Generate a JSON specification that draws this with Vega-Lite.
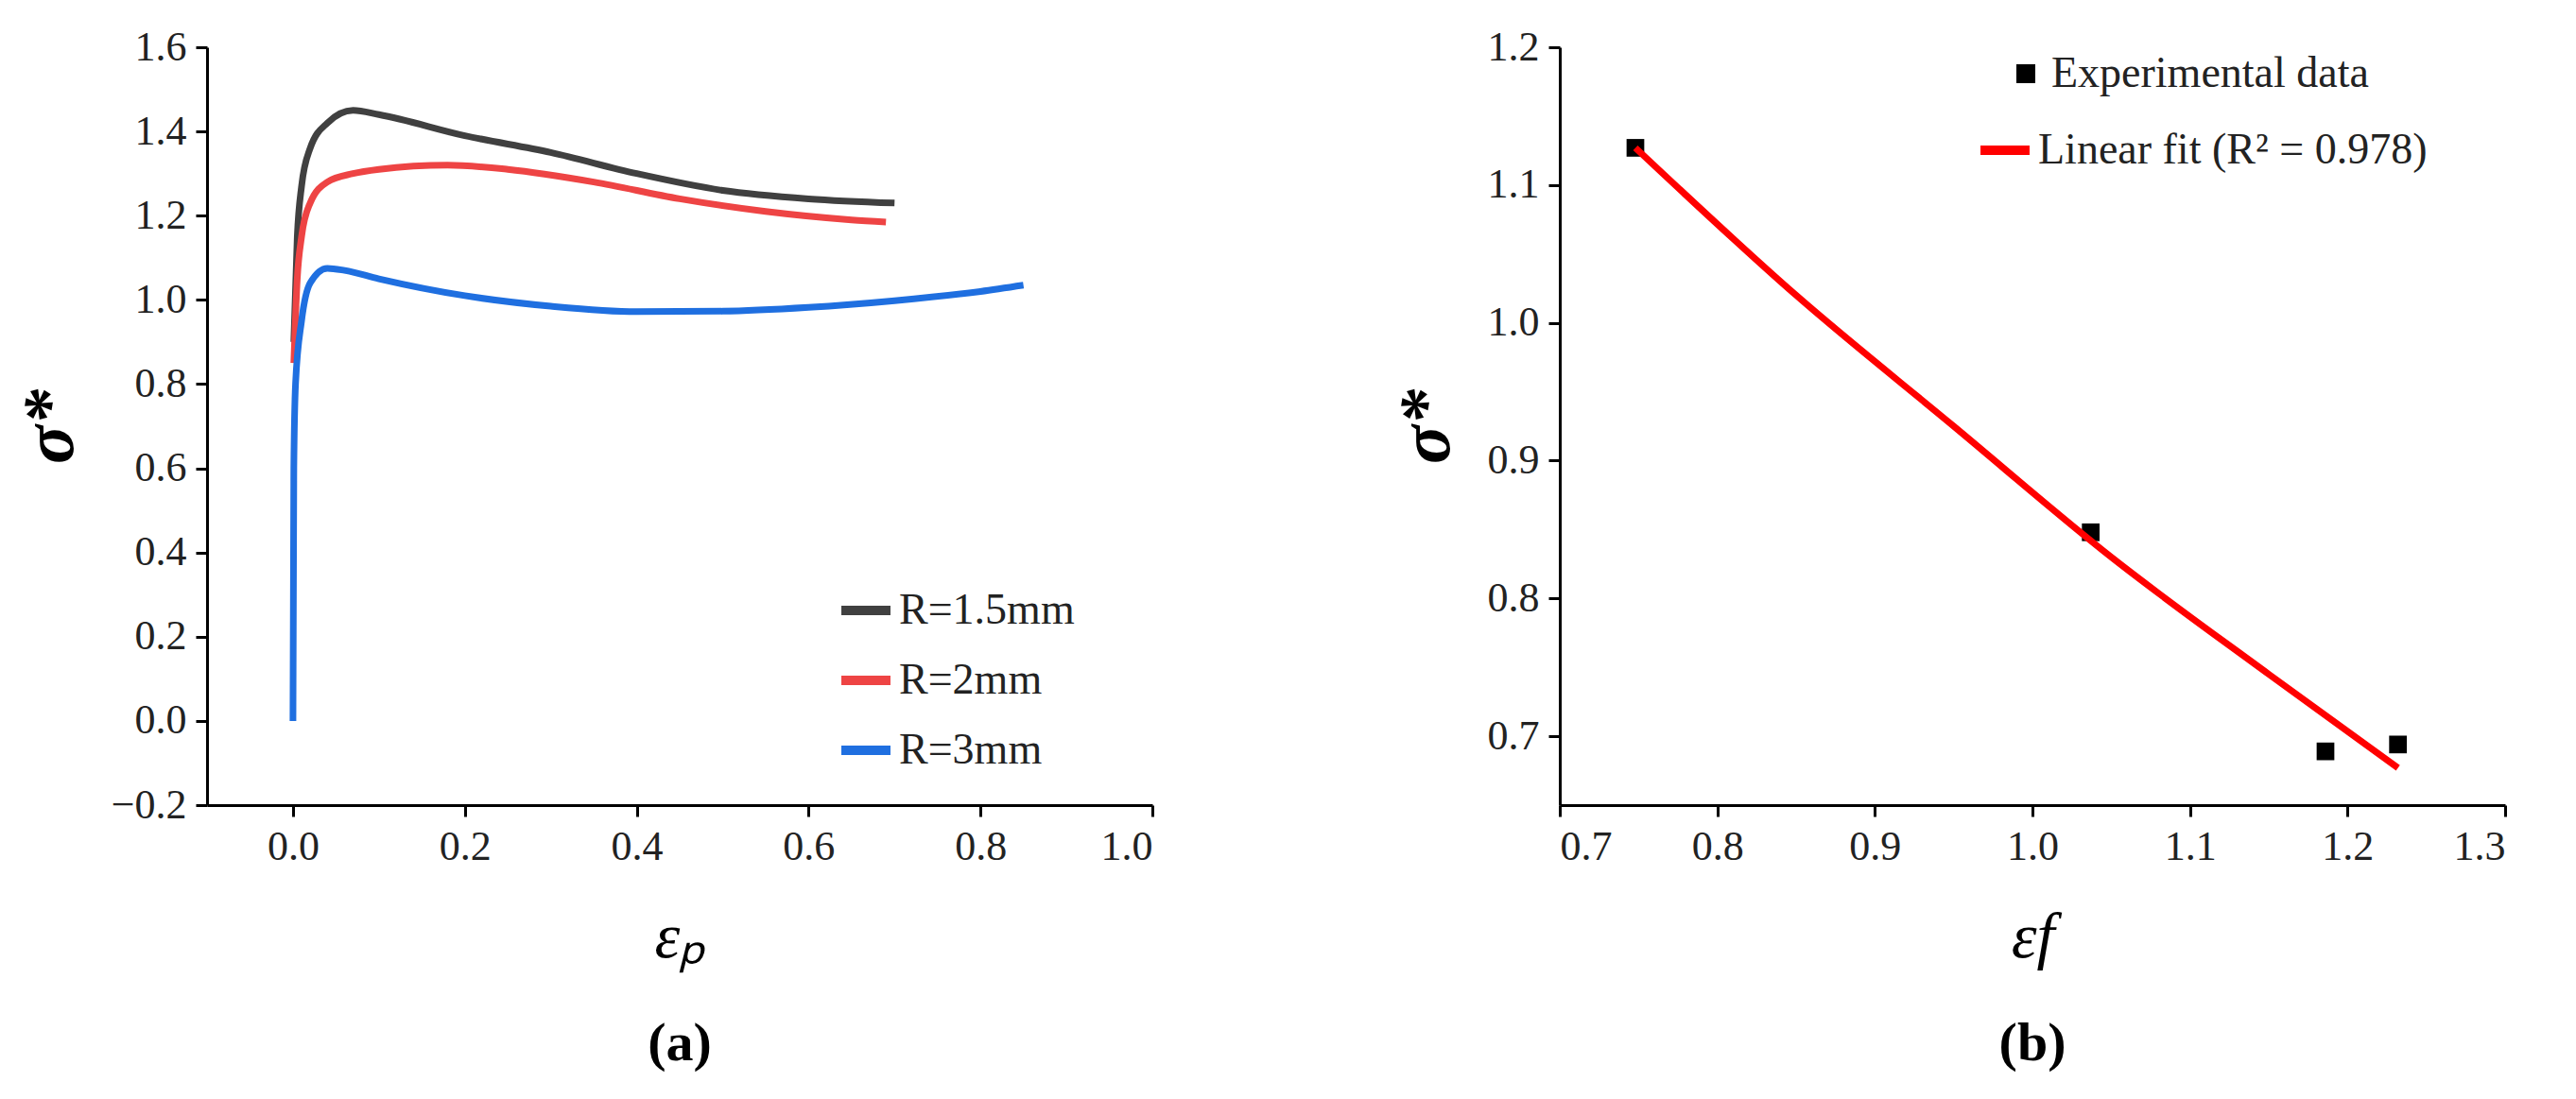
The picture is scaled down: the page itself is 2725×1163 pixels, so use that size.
{
  "$schema": "https://vega.github.io/schema/vega-lite/v6.json",
  "background": "white",
  "padding": {"left": 15, "top": 28, "right": 10, "bottom": 5},
  "config": {
    "font": "Liberation Serif",
    "view": {"stroke": null},
    "axis": {"labelFont": "Liberation Serif", "labelFontSize": 44, "labelColor": "#222", "titleFont": "Liberation Serif", "titleFontSize": 68, "titleFontStyle": "italic", "titleFontWeight": "normal", "titleColor": "black", "domainColor": "black", "domainWidth": 3, "tickColor": "black", "tickWidth": 3, "tickSize": 12, "grid": false, "labelPadding": 10},
    "legend": {"labelFont": "Liberation Serif", "labelFontSize": 46, "labelColor": "#222", "labelLimit": 0, "symbolStrokeWidth": 10, "symbolSize": 2700},
    "title": {"font": "Liberation Serif", "fontSize": 58, "fontWeight": "bold", "color": "black"}
  },
  "spacing": 250,
  "hconcat": [
    {
      "width": 1000, "height": 802,
      "title": {"text": "(a)", "orient": "bottom", "offset": 50},
      "data": {"values": [
        {"s":"R=1.5mm","x":0.001,"y":0.9},{"s":"R=1.5mm","x":0.005,"y":1.15},{"s":"R=1.5mm","x":0.01,"y":1.27},{"s":"R=1.5mm","x":0.02,"y":1.36},{"s":"R=1.5mm","x":0.04,"y":1.42},{"s":"R=1.5mm","x":0.07,"y":1.45},{"s":"R=1.5mm","x":0.1,"y":1.44},{"s":"R=1.5mm","x":0.2,"y":1.39},{"s":"R=1.5mm","x":0.3,"y":1.35},{"s":"R=1.5mm","x":0.4,"y":1.3},{"s":"R=1.5mm","x":0.5,"y":1.26},{"s":"R=1.5mm","x":0.6,"y":1.24},{"s":"R=1.5mm","x":0.7,"y":1.23},
        {"s":"R=2mm","x":0.001,"y":0.85},{"s":"R=2mm","x":0.005,"y":1.05},{"s":"R=2mm","x":0.01,"y":1.15},{"s":"R=2mm","x":0.02,"y":1.23},{"s":"R=2mm","x":0.04,"y":1.28},{"s":"R=2mm","x":0.07,"y":1.3},{"s":"R=2mm","x":0.1,"y":1.31},{"s":"R=2mm","x":0.18,"y":1.32},{"s":"R=2mm","x":0.25,"y":1.31},{"s":"R=2mm","x":0.35,"y":1.28},{"s":"R=2mm","x":0.45,"y":1.24},{"s":"R=2mm","x":0.55,"y":1.21},{"s":"R=2mm","x":0.65,"y":1.19},{"s":"R=2mm","x":0.69,"y":1.185},
        {"s":"R=3mm","x":0,"y":0},{"s":"R=3mm","x":0.001,"y":0.6},{"s":"R=3mm","x":0.003,"y":0.8},{"s":"R=3mm","x":0.01,"y":0.95},{"s":"R=3mm","x":0.02,"y":1.04},{"s":"R=3mm","x":0.04,"y":1.075},{"s":"R=3mm","x":0.06,"y":1.07},{"s":"R=3mm","x":0.1,"y":1.05},{"s":"R=3mm","x":0.2,"y":1.01},{"s":"R=3mm","x":0.3,"y":0.985},{"s":"R=3mm","x":0.4,"y":0.972},{"s":"R=3mm","x":0.5,"y":0.973},{"s":"R=3mm","x":0.6,"y":0.982},{"s":"R=3mm","x":0.7,"y":0.998},{"s":"R=3mm","x":0.8,"y":1.02},{"s":"R=3mm","x":0.85,"y":1.035}
      ]},
      "mark": {"type": "line", "strokeWidth": 7, "interpolate": "monotone"},
      "encoding": {
        "x": {"field": "x", "type": "quantitative", "title": "εₚ", "scale": {"domain": [-0.1, 1.0], "nice": false, "zero": false}, "axis": {"values": [0, 0.2, 0.4, 0.6, 0.8, 1.0], "format": ".1f", "titlePadding": 40}},
        "y": {"field": "y", "type": "quantitative", "title": "σ*", "scale": {"domain": [-0.2, 1.6], "nice": false}, "axis": {"values": [-0.2, 0, 0.2, 0.4, 0.6, 0.8, 1.0, 1.2, 1.4, 1.6], "format": ".1f", "titleFontWeight": "bold", "titleFontSize": 76, "titlePadding": 25}},
        "color": {"field": "s", "type": "nominal", "scale": {"domain": ["R=1.5mm", "R=2mm", "R=3mm"], "range": ["#404040", "#ee4444", "#1f6fe0"]}, "legend": {"title": null, "orient": "none", "legendX": 666, "legendY": 565, "symbolType": "stroke", "rowPadding": 20}}
      }
    },
    {
      "width": 1000, "height": 802,
      "title": {"text": "(b)", "orient": "bottom", "offset": 50},
      "layer": [
        {
          "data": {"values": [{"s":"Experimental data","x":0.748,"y":1.127},{"s":"Experimental data","x":1.037,"y":0.848},{"s":"Experimental data","x":1.186,"y":0.689},{"s":"Experimental data","x":1.232,"y":0.694}]},
          "mark": {"type": "point", "filled": true, "size": 350, "opacity": 1},
          "encoding": {
            "x": {"field": "x", "type": "quantitative"},
            "y": {"field": "y", "type": "quantitative"},
            "shape": {"field": "s", "type": "nominal", "scale": {"range": ["square"]}, "legend": {"title": null, "orient": "none", "legendX": 470, "legendY": 5, "symbolFillColor": "black", "symbolStrokeWidth": 0, "symbolSize": 400}},
            "color": {"value": "black"}
          }
        },
        {
          "data": {"values": [{"s":"Linear fit (R² = 0.978)","x":0.748,"y":1.127},{"s":"Linear fit (R² = 0.978)","x":0.85,"y":1.02},{"s":"Linear fit (R² = 0.978)","x":0.95,"y":0.925},{"s":"Linear fit (R² = 0.978)","x":1.05,"y":0.83},{"s":"Linear fit (R² = 0.978)","x":1.15,"y":0.745},{"s":"Linear fit (R² = 0.978)","x":1.232,"y":0.677}]},
          "mark": {"type": "line", "strokeWidth": 7, "interpolate": "monotone"},
          "encoding": {
            "x": {"field": "x", "type": "quantitative", "title": "εf", "scale": {"domain": [0.7, 1.3], "nice": false, "zero": false}, "axis": {"values": [0.7, 0.8, 0.9, 1.0, 1.1, 1.2, 1.3], "format": ".1f", "titlePadding": 40}},
            "y": {"field": "y", "type": "quantitative", "title": "σ*", "scale": {"domain": [0.65, 1.2], "nice": false, "zero": false}, "axis": {"values": [0.7, 0.8, 0.9, 1.0, 1.1, 1.2], "format": ".1f", "titleFontWeight": "bold", "titleFontSize": 76, "titlePadding": 25}},
            "stroke": {"field": "s", "type": "nominal", "scale": {"range": ["red"]}, "legend": {"title": null, "orient": "none", "legendX": 440, "legendY": 78, "symbolType": "stroke"}}
          }
        }
      ],
      "resolve": {"legend": {"shape": "independent", "stroke": "independent"}}
    }
  ]
}
